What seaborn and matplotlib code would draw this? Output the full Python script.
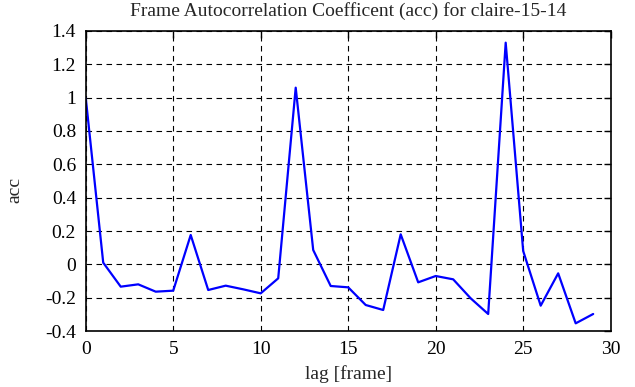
import matplotlib
matplotlib.use("Agg")
import matplotlib.pyplot as plt
import seaborn as sns
import pandas as pd
import numpy as np

lags = list(range(30))
acc = [1.0, 0.01, -0.134, -0.12, -0.164, -0.158, 0.176, -0.154, -0.128, -0.15,
       -0.174, -0.084, 1.06, 0.086, -0.13, -0.138, -0.244, -0.274, 0.18, -0.108,
       -0.07, -0.09, -0.204, -0.298, 1.33, 0.08, -0.248, -0.054, -0.354, -0.298]
xticks = [0, 5, 10, 15, 20, 25, 30]
yticks = [-0.4, -0.2, 0, 0.2, 0.4, 0.6, 0.8, 1, 1.2, 1.4]
ytick_labels = ["-0.4", "-0.2", "0", "0.2", "0.4", "0.6", "0.8", "1", "1.2", "1.4"]
title = "Frame Autocorrelation Coefficent (acc) for claire-15-14"

sns.set_style("white")
plt.rcParams["font.family"] = ["Liberation Serif", "DejaVu Serif"]
plt.rcParams["axes.unicode_minus"] = False

df = pd.DataFrame({"lag": lags, "acc": acc})

fig = plt.figure(figsize=(6.35, 3.87), dpi=100)
ax = fig.add_axes([0.135, 0.1447, 0.8267, 0.7752])
sns.lineplot(data=df, x="lag", y="acc", ax=ax, color="#0000ff", linewidth=1.6)

FS = 14
ax.set_xlim(0, 30)
ax.set_ylim(-0.4, 1.4)
ax.set_xticks(xticks)
ax.set_xticklabels([str(t) for t in xticks])
ax.set_yticks(yticks)
ax.set_yticklabels(ytick_labels)
ax.grid(True, color="black", linestyle=(0, (5, 4)), linewidth=0.8)
ax.tick_params(direction="in", length=5, width=1, top=True, right=True,
               labelsize=FS, colors="black", pad=7)
for s in ax.spines.values():
    s.set_color("black")
    s.set_linewidth(1.2)
ax.set_xlabel("lag [frame]", fontsize=FS, labelpad=5)
ax.set_ylabel("acc", fontsize=FS)
ax.yaxis.set_label_coords(-0.118, 0.47)
ax.set_title(title, fontsize=FS, pad=11)

fig.savefig("out.png", dpi=100)
